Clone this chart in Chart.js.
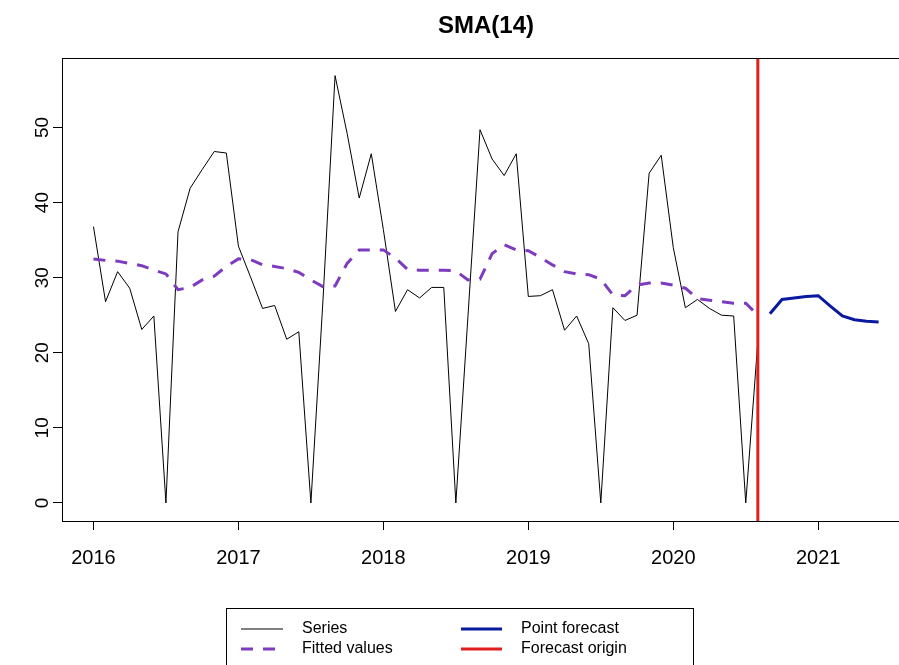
<!DOCTYPE html>
<html><head><meta charset="utf-8">
<script src="https://cdn.jsdelivr.net/npm/chart.js@4/dist/chart.umd.min.js"></script>
<style>
html,body{margin:0;padding:0;background:#fff;overflow:hidden;}
#wrap{width:899px;height:665px;overflow:hidden;position:relative;background:#fff;}
#c{position:absolute;left:0;top:0;}
</style></head><body>
<div id="wrap"><canvas id="c" width="930" height="665"></canvas></div>
<script>
// ---- data ----
const startYear = 2016;
const seriesValues = [
  36.8, 26.8, 30.8, 28.6, 23.1, 24.9, 0, 36.1, 41.9, 44.4, 46.8, 46.6,
  34.2, 30.1, 25.9, 26.3, 21.8, 22.8, 0, 27.0, 56.9, 49.2, 40.6, 46.5,
  36.4, 25.5, 28.4, 27.3, 28.7, 28.7, 0, 24.8, 49.7, 45.8, 43.6, 46.5,
  27.5, 27.6, 28.4, 23.0, 24.9, 21.2, 0, 26.0, 24.3, 25.0, 43.9, 46.3,
  34.0, 26.0, 27.1, 25.9, 25.0, 24.9, 0, 21.5
];
const fittedValues = [
  32.5, 32.3, 32.2, 31.9, 31.6, 31.0, 30.5, 28.4, 28.7, 29.7, 30.2, 31.5,
  32.5, 32.4, 31.7, 31.5, 31.2, 30.7, 29.7, 28.8, 28.9, 31.9, 33.7, 33.7,
  33.7, 32.6, 31.1, 31.0, 31.0, 31.0, 30.9, 29.7, 29.8, 33.2, 34.4, 33.7,
  33.6, 32.7, 31.7, 30.8, 30.5, 30.4, 29.8, 27.7, 27.6, 29.0, 29.3, 29.3,
  29.0, 28.6, 27.2, 27.0, 26.8, 26.6, 26.6, 25.0
];
const forecastValues = [25.2, 27.1, 27.3, 27.5, 27.6, 26.2, 24.9, 24.4, 24.2, 24.1];
const forecastOrigin = 2020 + 7/12;
const xTicks = [2016, 2017, 2018, 2019, 2020, 2021];
const yTicks = [0, 10, 20, 30, 40, 50];
const legendLabels = ['Series', 'Fitted values', 'Point forecast', 'Forecast origin'];
const titleText = 'SMA(14)';

const X_MIN = 2015.783, X_MAX = 2021.633;
const Y_MIN = -2.4, Y_MAX = 59.25;
const FONT = '"Liberation Sans", Arial, sans-serif';
const C_SERIES = '#000000', C_FIT = '#7d3cc0', C_FC = '#0a1aa0', C_ORIG = '#e01e1e';

function monthly(values, offset) {
  return values.map((v, i) => ({ x: startYear + (offset + i) / 12, y: v }));
}

const decor = {
  id: 'decor',
  afterDraw(chart) {
    const ctx = chart.ctx, a = chart.chartArea;
    const ys = chart.scales.y;
    ctx.save();
    // plot box
    ctx.strokeStyle = '#000'; ctx.lineWidth = 1;
    ctx.strokeRect(Math.round(a.left) + 0.5, Math.round(a.top) + 0.5,
                   Math.round(a.right - a.left), Math.round(a.bottom - a.top));
    // title
    ctx.fillStyle = '#000';
    ctx.font = 'bold 24px ' + FONT;
    ctx.textAlign = 'center'; ctx.textBaseline = 'middle';
    ctx.fillText(titleText, (a.left + a.right) / 2, 26);
    // rotated y labels
    ctx.font = '19px ' + FONT;
    yTicks.forEach(v => {
      const py = ys.getPixelForValue(v);
      ctx.save();
      ctx.translate(43, py);
      ctx.rotate(-Math.PI / 2);
      ctx.textAlign = 'center'; ctx.textBaseline = 'middle';
      ctx.fillText(String(v), 0, 0);
      ctx.restore();
    });
    // legend
    const lx = 226.5, ly = 608.5;
    ctx.strokeStyle = '#000'; ctx.lineWidth = 1;
    ctx.strokeRect(lx, ly, 467, 80);
    const rows = [629, 649];
    const cols = [{ l: 241, r: 283, t: 302 }, { l: 461, r: 502, t: 521 }];
    const styles = [
      { c: C_SERIES, w: 1, d: [] },
      { c: C_FIT, w: 3, d: [12, 10] },
      { c: C_FC, w: 3, d: [] },
      { c: C_ORIG, w: 3, d: [] }
    ];
    ctx.font = '16px ' + FONT;
    ctx.textAlign = 'left'; ctx.textBaseline = 'middle';
    legendLabels.forEach((lab, i) => {
      const col = cols[Math.floor(i / 2)], y = rows[i % 2], s = styles[i];
      ctx.beginPath();
      ctx.strokeStyle = s.c; ctx.lineWidth = s.w; ctx.setLineDash(s.d);
      ctx.moveTo(col.l, y); ctx.lineTo(col.r, y); ctx.stroke();
      ctx.setLineDash([]);
      ctx.fillStyle = '#000';
      ctx.fillText(lab, col.t, y);
    });
    ctx.restore();
  }
};

new Chart(document.getElementById('c'), {
  type: 'line',
  data: {
    datasets: [
      { label: legendLabels[0], data: monthly(seriesValues, 0), borderColor: C_SERIES,
        borderWidth: 1, pointRadius: 0, tension: 0, order: 3 },
      { label: legendLabels[1], data: monthly(fittedValues, 0), borderColor: C_FIT,
        borderWidth: 3, borderDash: [12, 10], pointRadius: 0, tension: 0, order: 2 },
      { label: legendLabels[2], data: monthly(forecastValues, seriesValues.length), borderColor: C_FC,
        borderWidth: 3, pointRadius: 0, tension: 0, order: 1 },
      { label: legendLabels[3], data: [{ x: forecastOrigin, y: Y_MIN }, { x: forecastOrigin, y: Y_MAX }],
        borderColor: C_ORIG, borderWidth: 3, pointRadius: 0, order: 0 }
    ]
  },
  options: {
    responsive: false,
    animation: false,
    devicePixelRatio: 1,
    parsing: true,
    layout: { padding: { left: 0, top: 58, right: 20, bottom: 0 } },
    plugins: { legend: { display: false }, tooltip: { enabled: false }, title: { display: false } },
    scales: {
      x: {
        type: 'linear', min: X_MIN, max: X_MAX,
        afterBuildTicks: s => { s.ticks = xTicks.map(v => ({ value: v })); },
        afterFit: s => { s.height = 144; },
        border: { display: false },
        grid: { display: true, drawOnChartArea: false, drawTicks: true, tickLength: 9, color: '#000', lineWidth: 1 },
        ticks: { color: '#000', font: { family: FONT, size: 20 }, padding: 16, maxRotation: 0,
                 autoSkip: false, callback: v => String(v) }
      },
      y: {
        type: 'linear', min: Y_MIN, max: Y_MAX,
        afterBuildTicks: s => { s.ticks = yTicks.map(v => ({ value: v })); },
        afterFit: s => { s.width = 62; },
        border: { display: false },
        grid: { display: true, drawOnChartArea: false, drawTicks: true, tickLength: 9, color: '#000', lineWidth: 1 },
        ticks: { display: false }
      }
    }
  },
  plugins: [decor]
});
</script>
</body></html>
